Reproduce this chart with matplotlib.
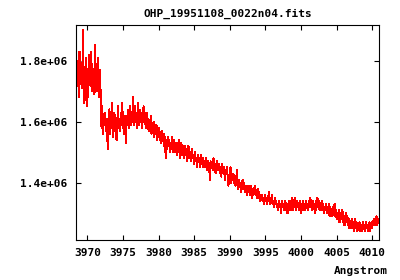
import numpy as np
import matplotlib
matplotlib.use("Agg")
import matplotlib.pyplot as plt
from matplotlib.ticker import FixedLocator, FuncFormatter

title = "OHP_19951108_0022n04.fits"
xlabel = "Angstrom"
wl_start = 3968.5
wl_step = 0.1

# flux in units of 1e4 (0.1 A steps)
flux_a = [180,172,178,168,183,174,179,171,176,190,166,178,170,181,165,177,168,182,172,175,
          183,170,179,173,176,169,185,172,178,170,181,174,168,177,163,158,165,156,162,159,
          163,157,161,155,151,160,164,156,162,158,166,155,160,163,157,161,154,159,165,158,
          161,157,163,159,166,158,162,156,160,153,162,159,164,158,161,165,159,163,160,168]
flux_b = [162,159,165,160,163,158,166,161,159,164,160,163,158,162,165,160,161,158,163,160,
          161,157,160,158,162,156,159,157,160,155,158,156,159,154,157,155,158,154,156,153,
          157,154,156,152,155,148,154,151,155,152,154,150,153,151,155,150,152,154,150,153,
          152,149,153,150,154,148,151,153,149,152,150,148,152,149,151,147,150,152,148,150,
          150,147,151,148,149,146,150,147,148,145,149,147,148,145,147,149,146,148,145,147]
flux_c = [147,145,148,144,147,145,146,141,147,145,146,144,148,145,146,143,145,147,144,146,
          146,143,145,142,146,144,143,145,141,144,143,145,142,139,141,143,145,140,143,141,
          143,140,142,139,141,144,140,138,141,139,140,137,139,141,138,140,137,139,138,136,
          139,137,138,136,139,137,135,138,136,137,139,136,137,135,138,136,137,134,136,135,
          136,134,135,133,136,134,135,133,134,135,137,133,135,134,136,133,134,132,135,133]
flux_d = [134,132,133,131,134,132,133,130,134,132,133,131,132,134,131,133,130,132,134,131,
          134,132,135,131,134,132,135,133,131,134,132,133,131,134,132,130,133,131,134,132,
          133,131,134,132,133,131,134,132,135,132,133,131,134,132,133,130,134,132,135,132,
          134,131,133,132,134,131,133,130,132,131,133,130,132,131,133,129,132,130,131,129]
flux_e = [132,130,133,129,131,128,130,129,131,127,130,128,129,131,127,129,126,128,130,127,
          129,126,128,125,127,126,128,125,127,124,126,128,125,127,124,126,125,127,124,126,
          126,124,127,125,126,124,127,125,126,124,125,127,124,126,125,127,126,128,126,128,
          127,129,126,128,127]

xticks = [3970, 3975, 3980, 3985, 3990, 3995, 4000, 4005, 4010]
yticks = [1.4e6, 1.6e6, 1.8e6]
ytick_labels = ["1.4e+06", "1.6e+06", "1.8e+06"]

flux = np.array(flux_a + flux_b + flux_c + flux_d + flux_e, dtype=float) * 1e4
wl = wl_start + wl_step * np.arange(len(flux))

font = dict(family="DejaVu Sans Mono", weight="bold", size=8)

fig = plt.figure(figsize=(4.0, 2.8), dpi=100)
ax = fig.add_axes([0.19, 0.1429, 0.7575, 0.7679])
ax.plot(wl, flux, color="#ff0000", lw=0.75, antialiased=False)
ax.set_xlim(3968.41, 4010.94)
ax.set_ylim(1.212e6, 1.917e6)

ax.xaxis.set_major_locator(FixedLocator(xticks))
ax.yaxis.set_major_locator(FixedLocator(yticks))
ax.yaxis.set_major_formatter(FuncFormatter(lambda v, p: ytick_labels[yticks.index(v)] if v in yticks else ""))
ax.xaxis.set_major_formatter(FuncFormatter(lambda v, p: "%d" % v))
ax.tick_params(direction="in", top=True, right=True, length=3.6, width=0.8, pad=6)
for lab in ax.get_xticklabels() + ax.get_yticklabels():
    lab.set_fontfamily(font["family"])
    lab.set_fontweight("bold")
    lab.set_fontsize(font["size"])
for s in ax.spines.values():
    s.set_linewidth(0.8)

fig.text(227.5 / 400, 1 - 14 / 280, title, ha="center", va="center", **font)
fig.text(388 / 400, 1 - 271 / 280, xlabel, ha="right", va="center", **font)

fig.savefig("out.png", dpi=100)
